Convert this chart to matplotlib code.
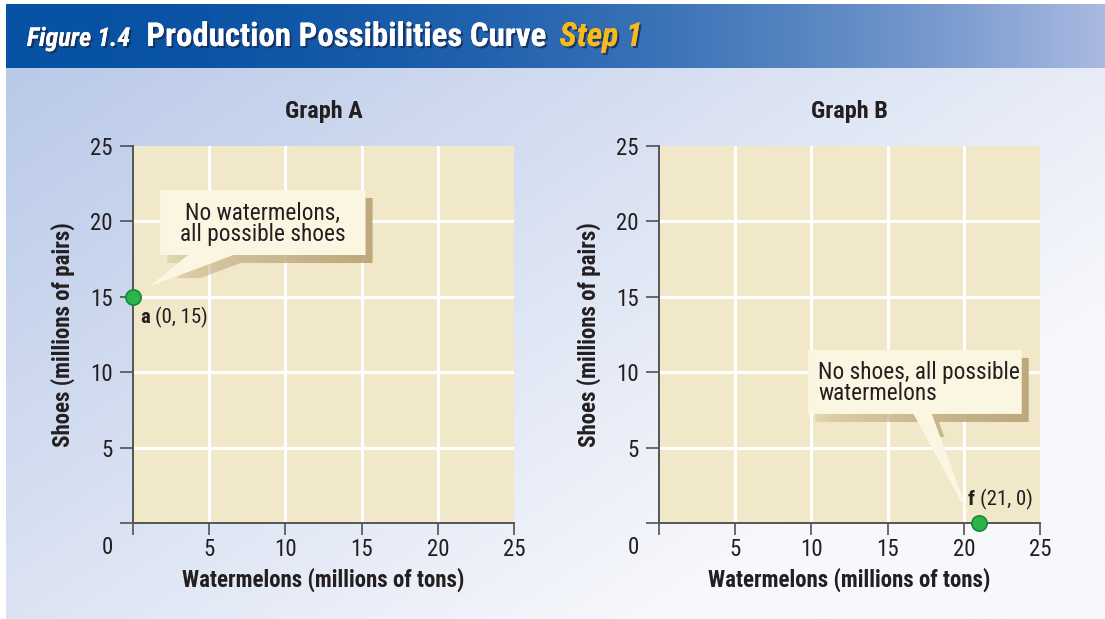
import matplotlib
import matplotlib.pyplot as plt
import matplotlib.patheffects as pe
from matplotlib import font_manager as fm
from matplotlib.patches import Polygon
import numpy as np

matplotlib.use('Agg')

# data
ticks = [0, 5, 10, 15, 20, 25]
graphs = ['Graph A', 'Graph B']
x_label = 'Watermelons (millions of tons)'
y_label = 'Shoes (millions of pairs)'
point_names = ['a', 'f']
point_x = [0, 21]
point_y = [15, 0]
notes = ['No watermelons,\nall possible shoes', 'No shoes, all possible\nwatermelons']

names = {f.name for f in fm.fontManager.ttflist}
font = 'Roboto'
for cand in ['Liberation Sans Narrow', 'Roboto Condensed', 'Open Sans Condensed', 'Arial Narrow']:
    if cand in names:
        font = cand
        break
plt.rcParams['font.family'] = [font, 'DejaVu Sans']

W, H = 1105, 619
fig = plt.figure(figsize=(W / 100, H / 100), dpi=100)
ink = '#231F20'

# background panel + header
bg = fig.add_axes([0, 0, 1, 1], zorder=-10)
bg.set_xlim(0, W)
bg.set_ylim(H, 0)
bg.axis('off')
xx, yy = np.meshgrid(np.linspace(0, 1, 300), np.linspace(0, 1, 200))
t = np.clip((0.6 * xx + 0.45 * yy) * 1.25, 0, 1)
c0 = np.array([0xB9, 0xC9, 0xE8]) / 255
c1 = np.array([0xF7, 0xF8, 0xFC]) / 255
bg.imshow(c0 + (c1 - c0) * t[..., None], extent=[6, W, H, 68], aspect='auto')
hx = np.linspace(0, 1, 400)[None, :] ** 2.2
h0 = np.array([0x08, 0x52, 0xA4]) / 255
h1 = np.array([0xAA, 0xBA, 0xE1]) / 255
himg = np.repeat(h0 + (h1 - h0) * hx[..., None], 2, axis=0)
bg.imshow(himg, extent=[6, W, 68, 4], aspect='auto')

shadow = [pe.withSimplePatchShadow(offset=(1.5, -1.5), shadow_rgbFace='#1a2a50', alpha=0.8), pe.Normal()]
renderer = fig.canvas.get_renderer()
hx0 = 27
head = [('Figure 1.4', 'white', 'italic', 18.8, 16), ('Production Possibilities Curve', 'white', 'normal', 23.7, 14),
        ('Step 1', '#F8BA1A', 'italic', 24, 0)]
for s, col, sty, size, gap in head:
    tt = fig.text(hx0 / W, 1 - 46 / H, s, color=col, fontsize=size, fontweight='bold',
                  fontstyle=sty, va='baseline', path_effects=shadow)
    hx0 = tt.get_window_extent(renderer).x1 + gap

lefts = [133, 659]
boxes = [
    # x0, x1, y0, y1, pointer base a, pointer base b, tip
    (1.78, 15.26, 17.77, 22.08, (3.6, 17.77), (6.6, 17.77), (1.1, 15.7)),
    (9.78, 23.8, 7.23, 11.47, (16.7, 7.23), (17.9, 7.23), (20.4, 0.35)),
]
text_pos = [(8.52, 19.83, 'center'), (10.43, 9.28, 'left')]
label_pos = [(0.46, 13.6), (20.28, 1.55)]

for i in range(2):
    ax = fig.add_axes([lefts[i] / W, 96 / H, 381 / W, 377 / H])
    ax.set_facecolor('#F1E8C9')
    ax.set_xticks(ticks)
    ax.set_yticks(ticks)
    ax.set_xticklabels([''] + [str(v) for v in ticks[1:]])
    ax.set_yticklabels([''] + [str(v) for v in ticks[1:]])
    for v in ticks[1:-1]:
        ax.axvline(v, color='white', lw=2.2, zorder=1)
        ax.axhline(v, color='white', lw=2.2, zorder=1)
    for s in ['top', 'right']:
        ax.spines[s].set_visible(False)
    for s in ['left', 'bottom']:
        ax.spines[s].set_color('#555555')
        ax.spines[s].set_linewidth(1.4)
    ax.tick_params(axis='y', length=9.5, width=1.1, color='#444444', pad=5,
                   labelsize=16.5, labelcolor=ink)
    ax.tick_params(axis='x', length=8.5, width=1.1, color='#444444', pad=2,
                   labelsize=16.5, labelcolor=ink)
    ax.text(-1.7, -1.65, '0', fontsize=16.5, color=ink, ha='center', va='center')
    ax.set_xlabel(x_label, fontsize=16.5, fontweight='bold', color=ink, labelpad=5)
    ax.set_ylabel(y_label, fontsize=16.5, fontweight='bold', color=ink, labelpad=11)
    ax.set_title(graphs[i], fontsize=17.5, fontweight='bold', color=ink, pad=20)

    # callout with soft shadow
    x0, x1, y0, y1, pa, pb, tip = boxes[i]
    callout = [(x0, y0), (x0, y1), (x1, y1), (x1, y0), pb, tip, pa]
    dx, dy = 0.46, -0.53
    sh = Polygon([(x + dx, y + dy) for x, y in callout], closed=True, facecolor='none',
                 edgecolor='none', zorder=3)
    ax.add_patch(sh)
    g = np.linspace(0, 1, 200)[None, :] ** 0.6
    grad = np.zeros((2, 200, 4))
    grad[..., :3] = np.array([0xBE, 0xA8, 0x7C]) / 255
    grad[..., 3] = 0.25 + 0.75 * g
    im = ax.imshow(grad, extent=[x0 + dx, x1 + dx, y0 + dy - 1, y1 + dy], aspect='auto',
                   zorder=3, interpolation='bilinear')
    im.set_clip_path(sh)
    ax.add_patch(Polygon(callout, closed=True, facecolor='#FAF6E2', edgecolor='none', zorder=4))
    tx, ty, ha = text_pos[i]
    ax.text(tx, ty, notes[i], fontsize=16.8, color=ink, ha=ha, va='center',
            linespacing=0.92, zorder=5)

    ax.set_xlim(0, 25)
    ax.set_ylim(0, 25)

    ax.plot(point_x[i], point_y[i], 'o', ms=11, mfc='#2DB34B', mec='#17873A', mew=1.2,
            zorder=6, clip_on=False)
    lx, ly = label_pos[i]
    nm = ax.text(lx, ly, point_names[i], fontsize=15, fontweight='bold', color=ink,
                 va='center', zorder=6)
    bx = nm.get_window_extent(renderer).x1 + 5
    px = ax.transData.inverted().transform((bx, 0))[0]
    ax.text(px, ly, '(%d, %d)' % (point_x[i], point_y[i]), fontsize=15,
            color=ink, va='center', zorder=6)

fig.savefig('out.png', dpi=100)
